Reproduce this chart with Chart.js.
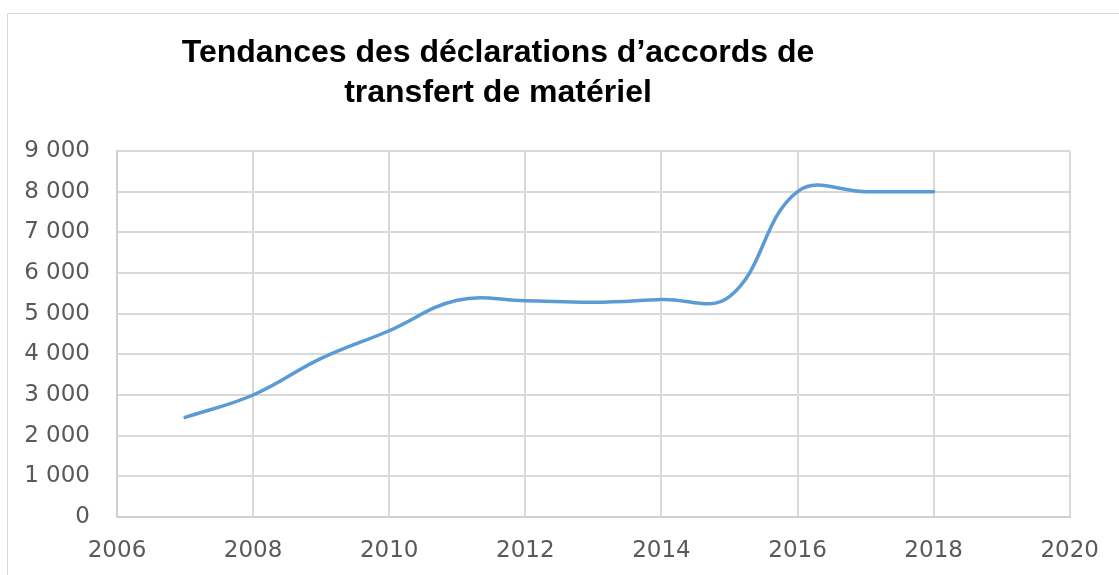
<!DOCTYPE html>
<html>
<head>
<meta charset="utf-8">
<script src="https://cdn.jsdelivr.net/npm/chart.js@4"></script>
<style>
  body { margin: 0; background: #fff; }
  #wrap { position: relative; width: 1119px; height: 575px; overflow: hidden; }
  #frame { position: absolute; left: 7px; top: 13px; width: 1200px; height: 700px;
           border-left: 1.5px solid #d9d9d9; border-top: 1.5px solid #d9d9d9; }
  #box { position: absolute; left: 0; top: 0; width: 1119px; height: 575px; }
</style>
</head>
<body>
<div id="wrap">
  <div id="frame"></div>
  <div id="box"><canvas id="myChart"></canvas></div>
</div>
<script>
var titleLines = ["Tendances des déclarations d’accords de", "transfert de matériel"]
var years = [2007, 2008, 2009, 2010, 2011, 2012, 2013, 2014, 2015, 2016, 2017, 2018]
var values = [2450, 3000, 3900, 4580, 5330, 5320, 5280, 5350, 5420, 8000, 8000, 8000]
var xTicks = [2006, 2020, 2]     // min, max, step
var yTicks = [0, 9000, 1000]

var points = []
for (var i = 0; i < years.length; i++) {
  points.push({x: years[i], y: values[i]})
}

function frNumber(v) {
  return String(v).replace(/\B(?=(\d{3})+(?!\d))/g, " ")
}

// title is drawn by hand, it sits left of the chart centre in the original
var titlePlugin = {
  id: "titleLines",
  afterDraw: function(chart) {
    var ctx = chart.ctx
    ctx.save()
    ctx.font = "bold 32px 'Liberation Sans'"
    ctx.fillStyle = "#000"
    ctx.textAlign = "center"
    ctx.textBaseline = "alphabetic"
    ctx.fillText(titleLines[0], 498, 62)
    ctx.fillText(titleLines[1], 498, 102)
    ctx.restore()
  }
}

new Chart("myChart", {
  type: "line",
  data: {
    datasets: [{
      data: points,
      borderColor: "#5b9bd5",
      borderWidth: 3.5,
      borderCapStyle: "round",
      pointRadius: 0,
      tension: 0.4,
      fill: false
    }]
  },
  options: {
    responsive: true,
    maintainAspectRatio: false,
    animation: false,
    layout: { padding: { left: 0, top: 151, right: 48, bottom: 0 } },
    plugins: {
      legend: { display: false },
      title: { display: false },
      tooltip: { enabled: false }
    },
    scales: {
      x: {
        type: "linear",
        min: xTicks[0],
        max: xTicks[1],
        afterFit: function(s) { s.height = 58 },
        ticks: {
          stepSize: xTicks[2],
          padding: 20,
          color: "#595959",
          font: { family: "DejaVu Sans", size: 23 },
          maxRotation: 0,
          callback: function(v) { return String(v) }
        },
        grid: { color: "#d9d9d9", lineWidth: 2, drawTicks: false },
        border: { color: "#d0d0d0", width: 2 }
      },
      y: {
        min: yTicks[0],
        max: yTicks[1],
        afterFit: function(s) { s.width = 117 },
        ticks: {
          stepSize: yTicks[2],
          padding: 27,
          color: "#595959",
          font: { family: "DejaVu Sans", size: 23 },
          callback: function(v) { return frNumber(v) }
        },
        grid: { color: "#d9d9d9", lineWidth: 2, drawTicks: false },
        border: { color: "#d0d0d0", width: 2 }
      }
    }
  },
  plugins: [titlePlugin]
})
</script>
</body>
</html>
